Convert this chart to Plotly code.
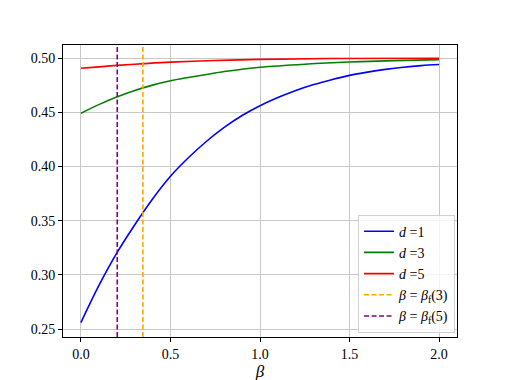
import plotly.graph_objects as go

# values
beta_d1 = [0.0, 0.1, 0.2, 0.3, 0.4, 0.5, 0.6, 0.7, 0.8, 0.9, 1.0, 1.1, 1.2, 1.3, 1.4,
           1.5, 1.6, 1.7, 1.8, 1.9, 2.0]
val_d1 = [0.256, 0.290, 0.320, 0.346, 0.370, 0.391, 0.408, 0.423, 0.436, 0.447, 0.456,
          0.4635, 0.470, 0.4755, 0.480, 0.484, 0.487, 0.4895, 0.4915, 0.493, 0.494]

beta_d3 = [0.0, 0.1, 0.2, 0.3, 0.4, 0.5, 0.6, 0.7, 0.8, 0.9, 1.0, 1.25, 1.5, 1.75, 2.0]
val_d3 = [0.449, 0.457, 0.464, 0.470, 0.475, 0.479, 0.482, 0.4848, 0.4875, 0.4897, 0.4915,
          0.4943, 0.4963, 0.4976, 0.4985]

beta_d5 = [0.0, 0.2, 0.35, 0.5, 0.75, 1.0, 1.4, 2.0]
val_d5 = [0.4905, 0.4932, 0.4948, 0.4962, 0.4977, 0.4987, 0.4995, 0.4998]

beta_f3 = 0.346
beta_f5 = 0.203

x_ticks = [0.0, 0.5, 1.0, 1.5, 2.0]
y_ticks = [0.25, 0.30, 0.35, 0.40, 0.45, 0.50]
y_range = [0.2427, 0.512]

fig = go.Figure()
fig.add_trace(go.Scatter(x=beta_d1, y=val_d1, mode="lines", line=dict(color="blue", width=1.6, shape="spline"),
                         name="<i>d</i> =1"))
fig.add_trace(go.Scatter(x=beta_d3, y=val_d3, mode="lines", line=dict(color="green", width=1.6, shape="spline"),
                         name="<i>d</i> =3"))
fig.add_trace(go.Scatter(x=beta_d5, y=val_d5, mode="lines", line=dict(color="red", width=1.6, shape="spline"),
                         name="<i>d</i> =5"))
fig.add_trace(go.Scatter(x=[beta_f3, beta_f3], y=y_range, mode="lines",
                         line=dict(color="orange", width=1.6, dash="5px,2.5px"),
                         name="<i>β</i> = <i>β</i><sub>f</sub>(3)"))
fig.add_trace(go.Scatter(x=[beta_f5, beta_f5], y=y_range, mode="lines",
                         line=dict(color="purple", width=1.6, dash="5px,2.5px"),
                         name="<i>β</i> = <i>β</i><sub>f</sub>(5)"))

axis_style = dict(showline=True, linecolor="black", linewidth=1, mirror=True,
                  ticks="outside", ticklen=4, tickcolor="black",
                  showgrid=True, gridcolor="#c8c8c8", gridwidth=1, zeroline=False)

# page body adds an 8px offset, margins compensate for it
fig.update_layout(
    width=507, height=380,
    margin=dict(l=55, r=58, t=37, b=48),
    paper_bgcolor="white", plot_bgcolor="white",
    font=dict(family="'Liberation Serif', 'DejaVu Serif', serif", size=14, color="black"),
    xaxis=dict(range=[-0.1, 2.1], tickvals=x_ticks, tickformat=".1f",
               title=dict(text="<i>β</i>", standoff=2), **axis_style),
    yaxis=dict(range=y_range, tickvals=y_ticks, tickformat=".2f", **axis_style),
    legend=dict(x=0.995, y=0.015, xanchor="right", yanchor="bottom",
                bgcolor="rgba(255,255,255,0.8)", bordercolor="#d0d0d0", borderwidth=1,
                font=dict(size=14), tracegroupgap=0),
    showlegend=True,
)

fig.write_html("out.html")
